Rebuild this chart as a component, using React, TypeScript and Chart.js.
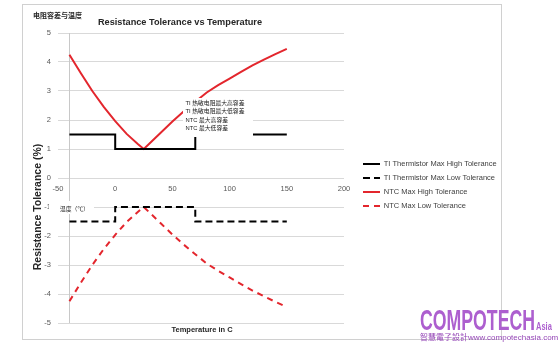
import React, { useEffect, useRef } from 'react';
import { Chart, registerables } from 'chart.js';

Chart.register(...registerables);

// ---- data ----
const ntcTemps = [-40, -30, -20, -10, 0, 10, 20, 25, 30, 40, 50, 60, 70, 80, 90, 100, 110, 120, 130, 140, 150];
const ntcHigh = [4.25, 3.61, 3.0, 2.45, 1.96, 1.52, 1.16, 1.0, 1.19, 1.57, 1.95, 2.3, 2.63, 2.95, 3.2, 3.43, 3.66, 3.88, 4.08, 4.27, 4.45];
const ntcLow = [-4.25, -3.61, -3.0, -2.45, -1.96, -1.52, -1.16, -1.0, -1.19, -1.57, -1.95, -2.3, -2.63, -2.95, -3.2, -3.43, -3.66, -3.88, -4.08, -4.27, -4.45];
const tiTemps = [-40, 0, 0, 70, 70, 150];
const tiHigh = [1.5, 1.5, 1, 1, 1.5, 1.5];
const tiLow = [-1.5, -1.5, -1, -1, -1.5, -1.5];
const seriesNames = [
  'TI Thermistor Max High Tolerance',
  'TI Thermistor Max Low Tolerance',
  'NTC Max High Tolerance',
  'NTC Max Low Tolerance',
];
const xMin = -50;
const xMax = 200;
const xStep = 50;
const yMin = -5;
const yMax = 5;
const yStep = 1;
const axisCrossTemp = -40;
const chartTitle = 'Resistance Tolerance vs Temperature';
const cnTitle = '电阻容差与温度';
const yTitle = 'Resistance Tolerance (%)';
const xTitle = 'Temperature in C';
const noteLines = ['TI 热敏电阻最大高容差', 'TI 热敏电阻最大低容差', 'NTC 最大高容差', 'NTC 最大低容差'];
const tempNote = '温度（℃）';
const brandMain = 'COMPOTECH';
const brandSub = 'Asia';
const brandLine = '智慧電子設計www.compotechasia.com';

const FONT = '"Liberation Sans", "Noto Sans CJK SC", sans-serif';
const RED = '#e3262d';

export default function App() {
  const ref = useRef<HTMLCanvasElement>(null);

  useEffect(() => {
    const canvas = ref.current!;
    const pts = (xs: number[], ys: number[]) => xs.map((x, i) => ({ x, y: ys[i] }));

    const overlay = {
      id: 'overlay',
      beforeDraw(chart: any) {
        const ctx = chart.ctx;
        ctx.save();
        ctx.strokeStyle = '#d0d0d0';
        ctx.lineWidth = 1;
        ctx.strokeRect(22.5, 4.5, 479, 335);
        ctx.restore();
      },
      beforeDatasetsDraw(chart: any) {
        const ctx = chart.ctx;
        const xs = chart.scales.x;
        const ys = chart.scales.y;
        const px = Math.round(xs.getPixelForValue(axisCrossTemp)) + 0.5;
        ctx.save();
        ctx.strokeStyle = '#c8c8c8';
        ctx.lineWidth = 1;
        ctx.beginPath();
        ctx.moveTo(px, ys.getPixelForValue(yMax));
        ctx.lineTo(px, ys.getPixelForValue(yMin));
        ctx.stroke();
        ctx.restore();
      },
      afterDatasetsDraw(chart: any) {
        const ctx = chart.ctx;
        ctx.save();
        ctx.fillStyle = '#ffffff';
        ctx.fillRect(183, 98, 70, 39);
        ctx.fillRect(49, 201, 45, 13);
        ctx.fillStyle = '#1a1a1a';
        ctx.font = `5.8px ${FONT}`;
        ctx.textBaseline = 'middle';
        ctx.textAlign = 'left';
        const ys = [103.5, 111.8, 120.1, 128.4];
        noteLines.forEach((t, i) => ctx.fillText(t, 185.5, ys[i]));
        ctx.fillText(tempNote, 60, 209.5);
        ctx.restore();
      },
      afterDraw(chart: any) {
        const ctx = chart.ctx;
        ctx.save();
        ctx.fillStyle = '#262626';
        ctx.textBaseline = 'middle';
        ctx.textAlign = 'center';
        ctx.font = `bold 9.2px ${FONT}`;
        ctx.fillText(chartTitle, 180, 22);
        ctx.font = `bold 7.5px ${FONT}`;
        ctx.fillText(xTitle, 202, 330);
        ctx.textAlign = 'left';
        ctx.font = `bold 7px "Noto Sans CJK SC", sans-serif`;
        ctx.fillText(cnTitle, 33, 15);
        ctx.translate(38, 207);
        ctx.rotate(-Math.PI / 2);
        ctx.textAlign = 'center';
        ctx.font = `bold 10.5px ${FONT}`;
        ctx.fillText(yTitle, 0, 0);
        ctx.restore();
      },
    };

    const chart = new Chart(canvas, {
      type: 'scatter',
      data: {
        datasets: [
          { label: seriesNames[0], data: pts(tiTemps, tiHigh), borderColor: '#000000', backgroundColor: '#000000', borderWidth: 2, borderDash: [], showLine: true, pointRadius: 0, tension: 0 },
          { label: seriesNames[1], data: pts(tiTemps, tiLow), borderColor: '#000000', backgroundColor: '#000000', borderWidth: 2, borderDash: [7, 4], showLine: true, pointRadius: 0, tension: 0 },
          { label: seriesNames[2], data: pts(ntcTemps, ntcHigh), borderColor: RED, backgroundColor: RED, borderWidth: 2, borderDash: [], showLine: true, pointRadius: 0, tension: 0 },
          { label: seriesNames[3], data: pts(ntcTemps, ntcLow), borderColor: RED, backgroundColor: RED, borderWidth: 2, borderDash: [6, 5], showLine: true, pointRadius: 0, tension: 0 },
        ] as any,
      },
      options: {
        responsive: false,
        animation: false,
        font: { family: FONT },
        layout: { padding: { top: 33, bottom: 27, left: 0, right: 53.5 } },
        plugins: {
          tooltip: { enabled: false },
          title: { display: false },
          legend: {
            position: 'right',
            maxWidth: 150,
            title: { display: true, text: ' ', font: { size: 10 }, padding: 1 },
            labels: {
              usePointStyle: true,
              pointStyle: 'line',
              pointStyleWidth: 17,
              boxHeight: 7.5,
              padding: 6.5,
              color: '#404040',
              font: { size: 7.5, family: FONT },
              generateLabels: (c: any) =>
                c.data.datasets.map((ds: any, i: number) => ({
                  text: ds.label,
                  fillStyle: ds.borderColor,
                  strokeStyle: ds.borderColor,
                  lineWidth: 2,
                  lineDash: ds.borderDash || [],
                  pointStyle: 'line',
                  hidden: false,
                  datasetIndex: i,
                  fontColor: '#404040',
                })),
            },
          },
        } as any,
        scales: {
          x: {
            type: 'linear',
            position: { y: 0 } as any,
            min: xMin,
            max: xMax,
            ticks: { stepSize: xStep, padding: 6, color: '#595959', font: { size: 7.5, family: FONT } },
            grid: { display: false, drawTicks: false },
            border: { display: false },
          },
          y: {
            type: 'linear',
            position: 'left',
            min: yMin,
            max: yMax,
            ticks: { stepSize: yStep, padding: 7, color: '#595959', font: { size: 7.5, family: FONT } },
            grid: { color: '#d9d9d9', drawTicks: false },
            border: { display: false },
            afterFit: (s: any) => { s.width = 58; },
          },
          gap: {
            type: 'linear',
            position: 'right',
            display: true,
            ticks: { display: false },
            grid: { display: false, drawTicks: false },
            border: { display: false },
            afterFit: (s: any) => { s.width = 12.5; },
          },
        } as any,
      },
      plugins: [overlay],
    });
    return () => chart.destroy();
  }, []);

  return (
    <div style={{ position: 'fixed', left: 0, top: 0, width: 560, height: 350, background: '#ffffff', overflow: 'hidden' }}>
      <canvas ref={ref} width={560} height={350} style={{ display: 'block', width: 560, height: 350 }} />
      <div style={{ position: 'absolute', left: 420, top: 304.6, fontFamily: '"Liberation Sans", sans-serif', fontWeight: 'bold', fontSize: 30, lineHeight: '30px', color: '#ad5fcf', transform: 'scaleX(0.59)', transformOrigin: 'left top', whiteSpace: 'nowrap' }}>{brandMain}</div>
      <div style={{ position: 'absolute', left: 536, top: 321.5, fontFamily: '"Liberation Sans", sans-serif', fontWeight: 'bold', fontSize: 10, lineHeight: '10px', color: '#ad5fcf', transform: 'scaleX(0.75)', transformOrigin: 'left top', whiteSpace: 'nowrap' }}>{brandSub}</div>
      <div style={{ position: 'absolute', left: 420, top: 333, fontFamily: '"Liberation Sans", "Noto Sans CJK TC", sans-serif', fontSize: 8, lineHeight: '10px', color: '#9446b6', whiteSpace: 'nowrap' }}>{brandLine}</div>
    </div>
  );
}
